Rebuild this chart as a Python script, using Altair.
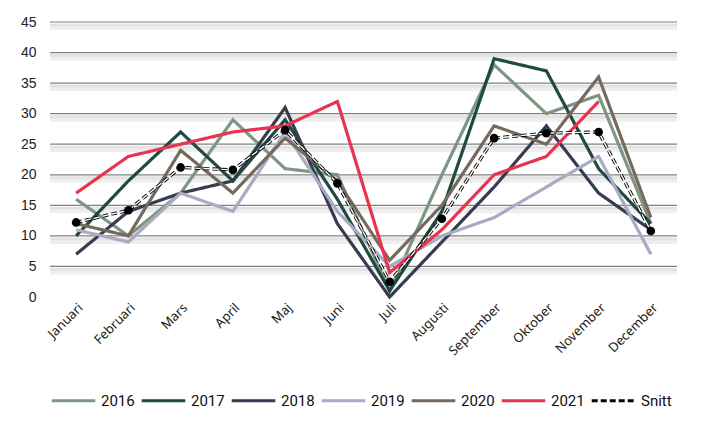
import altair as alt
import pandas as pd

months = ["Januari", "Februari", "Mars", "April", "Maj", "Juni", "Juli",
          "Augusti", "September", "Oktober", "November", "December"]
series_names = ["2016", "2017", "2018", "2019", "2020", "2021", "Snitt"]
v2016 = [16, 10, 17, 29, 21, 20, 1, 20, 38, 30, 33, 12]
v2017 = [10, 19, 27, 19, 29, 16, 1, 14, 39, 37, 21, 12]
v2018 = [7, 14, 17, 19, 31, 12, 0, 9, 18, 28, 17, 11]
v2019 = [11, 9, 17, 14, 27, 14, 5, 10, 13, 18, 23, 7]
v2020 = [12, 10, 24, 17, 26, 19, 6, 15, 28, 25, 36, 13]
v2021 = [17, 23, 25, 27, 28, 32, 4, 11, 20, 23, 32, None]
snitt = [12.2, 14.2, 21.2, 20.8, 27.3, 18.6, 2.5, 12.8, 26, 26.8, 27, 10.8]
y_ticks = [0, 5, 10, 15, 20, 25, 30, 35, 40, 45]
colors = ["#7f9584", "#1f4a40", "#363b4f", "#a9abc3", "#766a5f", "#e8344f", "#000000"]

rows = []
for name, vals in zip(series_names, [v2016, v2017, v2018, v2019, v2020, v2021, snitt]):
    for i, (m, v) in enumerate(zip(months, vals)):
        if v is not None:
            rows.append({"Serie": name, "Månad": m, "order": i, "Värde": v})
df = pd.DataFrame(rows)
grid_df = pd.DataFrame({"g": [t for t in y_ticks if t > 0]})

x_axis = alt.Axis(labelAngle=-45, domain=False, ticks=False, labelPadding=4, grid=False,
                  labelFont="Noto Sans", labelFontSize=13, labelColor="#1a1a1a")
y_axis = alt.Axis(values=y_ticks, domain=False, ticks=False, grid=False,
                  labelPadding=14, labelFont="Liberation Sans", labelFontSize=14,
                  labelColor="#222222")
y_scale = alt.Scale(domain=[0, 45], nice=False)

def yq(field):
    return alt.Y(field, scale=y_scale, title=None, axis=y_axis)

def xm():
    return alt.X("Månad:N", sort=months, title=None,
                 scale=alt.Scale(type="point", padding=0.5), axis=x_axis)

shadow1 = alt.Chart(grid_df).mark_rule(color="#e3e3e3", strokeWidth=3, yOffset=3).encode(y=yq("g:Q"))
shadow2 = alt.Chart(grid_df).mark_rule(color="#efefef", strokeWidth=4, yOffset=6).encode(y=yq("g:Q"))
grid = alt.Chart(grid_df).mark_rule(color="#808080", strokeWidth=1.2).encode(y=yq("g:Q"))

lines = alt.Chart(df).mark_line().encode(
    x=xm(),
    y=yq("Värde:Q"),
    color=alt.Color("Serie:N", sort=series_names,
                    scale=alt.Scale(domain=series_names, range=colors),
                    legend=alt.Legend(title=None, orient="none", direction="horizontal",
                                      columns=7, legendX=0, legendY=355,
                                      symbolType="stroke", symbolSize=1900,
                                      symbolStrokeWidth=4.5, labelOffset=4,
                                      columnPadding=0, labelFont="Roboto",
                                      labelFontSize=15, labelColor="#111111")),
    strokeDash=alt.StrokeDash("Serie:N", sort=series_names,
                              scale=alt.Scale(domain=series_names,
                                              range=[[1, 0]] * 6 + [[6, 3]]),
                              legend=alt.Legend(title=None)),
    strokeWidth=alt.StrokeWidth("Serie:N", sort=series_names,
                                scale=alt.Scale(domain=series_names,
                                                range=[3.2] * 6 + [4.2]),
                                legend=None),
    order="order:Q",
)

snitt_df = df[df["Serie"] == "Snitt"]
inner = alt.Chart(snitt_df).mark_line(color="white", strokeWidth=1.4, strokeDash=[6, 3]).encode(
    x=xm(), y=yq("Värde:Q"), order="order:Q")
dots = alt.Chart(snitt_df).mark_circle(color="black", size=75, opacity=1).encode(
    x=xm(), y=yq("Värde:Q"))

chart = alt.layer(shadow2, shadow1, grid, lines, inner, dots).properties(
    width=627, height=275,
    autosize=alt.AutoSizeParams(type="none"),
    padding={"left": 42, "top": 14, "right": 22, "bottom": 127},
).configure(background="white", view=alt.ViewConfig(stroke=None))

chart.save("out.html", embed_options={"renderer": "svg", "actions": False})
